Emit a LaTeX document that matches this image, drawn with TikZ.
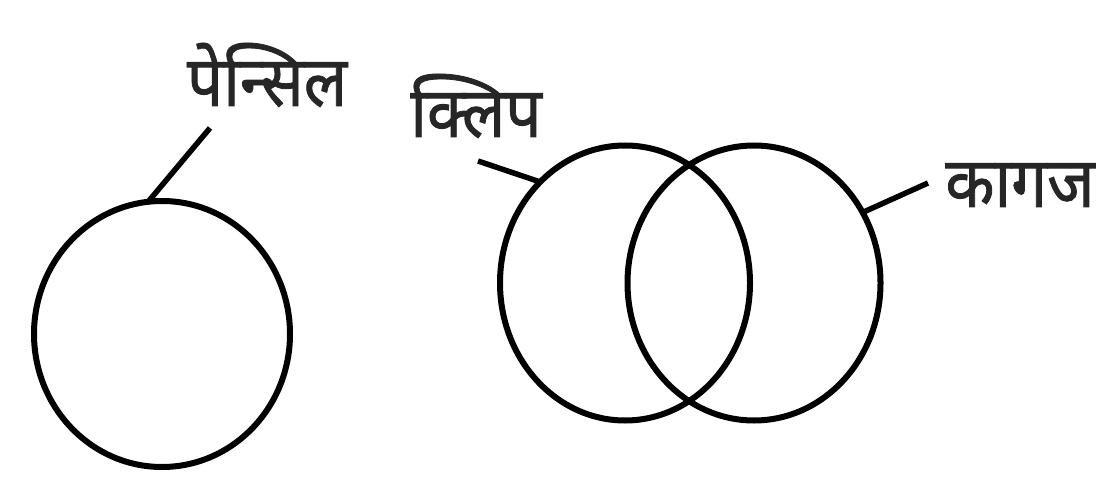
\documentclass[tikz,border=0pt]{standalone}
\usepackage{fontspec}
\newfontfamily\hindi[Script=Devanagari,FakeBold=1.2]{Noto Sans}
\usetikzlibrary{shapes.geometric}
\begin{document}
\begin{tikzpicture}[x=1pt,y=-1pt,
  ring/.style={ellipse,draw=black,line width=6pt,inner sep=0pt,outer sep=0pt},
  leader/.style={draw=black,line width=5.5pt},
  lbl/.style={font=\hindi\fontsize{64}{70}\selectfont,text=black!85,inner sep=0pt,anchor=base,yscale=1.1}]
\useasboundingbox (0,0) rectangle (1099,478);
\node[ring,minimum width=256pt,minimum height=266pt] (pencil) at (162,334) {};
\node[ring,minimum width=250pt,minimum height=275pt] (clip) at (625,283) {};
\node[ring,minimum width=253pt,minimum height=275pt] (paper) at (754,283) {};
\node[lbl] (tp) at (267,106) {पेन्सिल};
\node[lbl] (tc) at (476,137) {क्लिप};
\node[lbl] (tk) at (1020,207) {कागज};
\coordinate (lp) at (210,128);
\coordinate (lc) at (478,161);
\coordinate (lk) at (928,183);
\draw[leader] (lp) -- (pencil.96);
\draw[leader] (lc) -- (clip.130);
\draw[leader] (lk) -- (paper.33);
\end{tikzpicture}
\end{document}
